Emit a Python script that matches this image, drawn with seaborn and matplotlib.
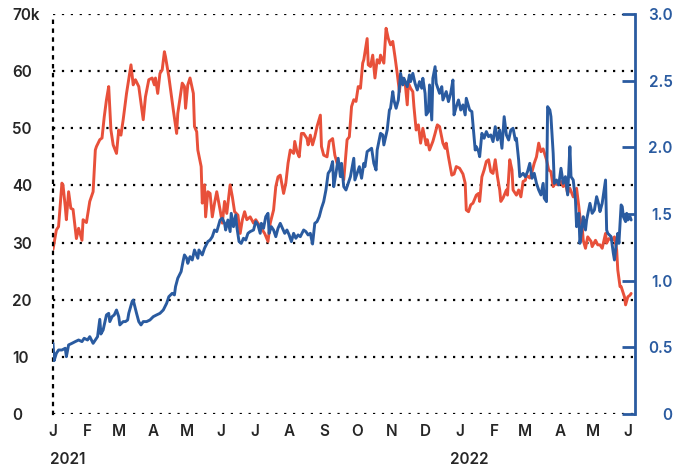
import matplotlib
matplotlib.use('Agg')
import matplotlib.pyplot as plt
import matplotlib.dates as mdates
import matplotlib.ticker as mticker
import seaborn as sns
import pandas as pd

sns.set_style('white')
plt.rcParams['font.family'] = ['Inter', 'DejaVu Sans']

RED = '#e8503a'
BLUE = '#2a5ba0'
TEXT = '#262626'

start = pd.Timestamp('2021-01-01')

# red series: days since 2021-01-01, value in thousands (left axis)
red_days = [0, 3, 5, 8, 9, 11, 12, 14, 16, 18, 21, 23, 26, 27, 30, 33, 36, 38, 39, 42,
            44, 46, 48, 50, 52, 54, 57, 59, 61, 63, 66, 70, 72, 74, 77, 79, 81, 83, 86, 89,
            91, 92, 94, 96, 98, 100, 101, 104, 106, 108, 111, 112, 116, 118, 119, 121, 123, 126, 127, 129,
            130, 133, 134, 136, 137, 139, 141, 143, 145, 147, 150, 152, 154, 156, 159, 161, 163, 166, 168, 170,
            172, 174, 177, 180, 182, 185, 187, 190, 193, 195, 198, 200, 202, 204, 207, 209, 211, 213, 216, 217,
            219, 221, 223, 225, 228, 229, 231, 233, 235, 237, 240, 241, 243, 246, 248, 251, 253, 255, 258, 261,
            264, 266, 268, 270, 272, 274, 276, 278, 279, 282, 283, 285, 287, 289, 291, 293, 294, 297, 299, 301,
            303, 305, 307, 309, 311, 312, 314, 316, 318, 319, 321, 323, 324, 326, 328, 330, 332, 335, 336, 338,
            341, 343, 345, 347, 350, 352, 353, 355, 358, 360, 362, 365, 368, 370, 371, 373, 375, 377, 380, 382,
            383, 385, 387, 389, 391, 393, 395, 397, 399, 401, 402, 404, 407, 408, 410, 412, 413, 416, 418, 420,
            422, 424, 425, 428, 430, 432, 434, 436, 438, 440, 443, 445, 447, 449, 451, 453, 456, 458, 460, 462,
            464, 467, 469, 470, 472, 473, 475, 476, 478, 480, 483, 484, 487, 489, 491, 493, 496, 497, 499, 502,
            504, 506, 507, 509, 510, 513, 514, 516, 518, 519]
red_vals = [28.8, 32.2, 32.8, 40.4, 40.0, 36.3, 34.0, 38.9, 36.0, 35.8, 30.7, 32.5, 30.4, 34.0, 33.5, 37.2, 38.9, 46.2, 46.8, 48.0,
            48.3, 52.0, 55.0, 57.3, 49.7, 47.1, 45.6, 49.7, 48.8, 51.5, 56.1, 61.1, 57.6, 58.5, 57.3, 54.4, 51.5, 55.5, 58.5, 58.8,
            57.6, 58.8, 56.1, 59.6, 60.2, 63.4, 62.5, 59.0, 56.1, 53.2, 49.1, 52.6, 57.9, 57.3, 53.5, 57.6, 58.8, 56.1, 50.3, 49.4,
            46.2, 43.3, 36.9, 40.1, 34.5, 38.9, 38.6, 34.5, 36.9, 38.9, 35.7, 33.4, 37.2, 35.1, 40.1, 38.0, 35.4, 34.8, 31.6, 34.0,
            35.4, 34.0, 34.5, 33.4, 34.0, 33.1, 32.5, 31.6, 30.2, 33.4, 35.7, 39.8, 41.5, 41.8, 38.6, 40.4, 43.9, 46.2, 45.6, 47.7,
            45.9, 45.0, 49.1, 49.1, 48.2, 47.1, 48.8, 47.1, 48.5, 50.3, 52.3, 46.8, 45.3, 45.0, 47.7, 48.2, 45.3, 43.9, 43.3, 41.0,
            48.0, 48.5, 53.8, 55.0, 54.7, 57.3, 57.0, 61.4, 62.0, 65.7, 61.1, 60.8, 62.8, 58.8, 62.0, 61.4, 62.8, 61.4, 67.5, 65.7,
            64.6, 65.2, 62.5, 59.6, 56.4, 58.5, 58.8, 58.2, 54.1, 57.9, 57.0, 56.4, 53.8, 49.7, 50.6, 47.4, 50.0, 47.1, 48.0, 46.2,
            47.7, 49.1, 50.6, 50.3, 47.4, 46.5, 47.4, 45.0, 41.8, 42.0, 43.3, 43.0, 42.0, 40.4, 35.7, 35.4, 36.6, 36.9, 38.3, 38.6,
            37.2, 41.5, 42.7, 44.2, 44.5, 42.4, 42.1, 44.5, 41.5, 39.2, 37.2, 37.8, 39.2, 38.3, 44.5, 42.7, 39.2, 38.3, 39.2, 38.0,
            40.7, 40.9, 41.8, 41.3, 42.4, 43.9, 45.0, 47.4, 45.9, 46.4, 44.5, 42.7, 42.4, 39.8, 40.4, 40.1, 40.7, 39.8, 40.4, 38.6,
            39.5, 38.0, 38.6, 39.5, 36.3, 34.5, 32.8, 30.4, 29.0, 31.0, 30.2, 29.3, 30.4, 29.6, 29.6, 29.0, 31.6, 29.9, 30.7, 30.4,
            31.0, 28.7, 25.2, 22.3, 22.3, 20.5, 19.1, 20.5, 20.8, 21.1]

# blue series: days since 2021-01-01, value (right axis)
blue_days = [0, 1, 3, 5, 8, 11, 12, 14, 17, 20, 23, 26, 28, 31, 33, 36, 38, 40, 42, 43,
             45, 48, 50, 51, 53, 55, 57, 59, 60, 63, 65, 67, 68, 71, 72, 75, 77, 79, 81, 84,
             87, 90, 93, 96, 99, 102, 104, 107, 109, 110, 112, 115, 117, 118, 120, 121, 123, 125, 127, 130,
             131, 134, 136, 139, 141, 143, 145, 147, 150, 152, 154, 155, 157, 159, 160, 162, 164, 165, 167, 169,
             171, 173, 175, 177, 180, 182, 184, 186, 187, 189, 191, 193, 194, 196, 198, 200, 202, 204, 206, 208,
             210, 212, 214, 216, 218, 220, 222, 225, 227, 229, 231, 233, 235, 237, 239, 241, 243, 245, 247, 249,
             251, 252, 254, 256, 258, 259, 261, 263, 265, 267, 270, 271, 273, 275, 277, 279, 280, 282, 284, 286,
             288, 290, 291, 294, 296, 297, 300, 302, 303, 305, 306, 308, 310, 312, 314, 315, 318, 320, 321, 323,
             325, 327, 329, 331, 332, 334, 335, 337, 338, 340, 341, 343, 344, 347, 349, 350, 353, 355, 357, 359,
             360, 362, 364, 366, 368, 370, 371, 374, 376, 378, 379, 380, 382, 383, 385, 387, 389, 391, 393, 395,
             397, 399, 401, 403, 405, 407, 409, 411, 413, 415, 416, 418, 419, 422, 424, 426, 428, 430, 432, 434,
             436, 438, 440, 441, 443, 444, 446, 447, 449, 450, 452, 454, 456, 458, 460, 462, 464, 465, 467, 469,
             470, 472, 473, 475, 476, 478, 479, 482, 484, 486, 488, 490, 491, 493, 496, 497, 498, 501, 503, 504,
             505, 507, 508, 510, 511, 512, 514, 515, 516, 518, 519]
blue_vals = [0.53, 0.40, 0.455, 0.48, 0.48, 0.493, 0.43, 0.518, 0.53, 0.543, 0.555, 0.543, 0.568, 0.555, 0.58, 0.53, 0.555, 0.58, 0.71, 0.60,
             0.63, 0.743, 0.755, 0.693, 0.73, 0.743, 0.78, 0.73, 0.668, 0.693, 0.693, 0.705, 0.755, 0.843, 0.855, 0.755, 0.693, 0.668, 0.693, 0.693,
             0.705, 0.73, 0.743, 0.755, 0.78, 0.83, 0.88, 0.905, 0.893, 0.955, 1.018, 1.068, 1.155, 1.193, 1.168, 1.13, 1.18, 1.155, 1.23, 1.168,
             1.23, 1.193, 1.243, 1.293, 1.305, 1.33, 1.38, 1.368, 1.455, 1.468, 1.43, 1.38, 1.455, 1.368, 1.505, 1.405, 1.493, 1.405, 1.293, 1.28,
             1.318, 1.305, 1.355, 1.368, 1.38, 1.443, 1.418, 1.355, 1.43, 1.393, 1.48, 1.505, 1.355, 1.405, 1.38, 1.33, 1.393, 1.43, 1.393, 1.355,
             1.38, 1.343, 1.293, 1.355, 1.318, 1.343, 1.33, 1.38, 1.368, 1.343, 1.355, 1.275, 1.43, 1.443, 1.48, 1.543, 1.593, 1.68, 1.805, 1.83,
             1.893, 1.705, 1.805, 1.918, 1.78, 1.88, 1.705, 1.68, 1.73, 1.78, 1.918, 1.755, 1.805, 1.855, 1.768, 1.88, 1.855, 1.968, 1.98, 1.993,
             1.88, 1.83, 1.98, 2.105, 2.093, 2.018, 2.13, 2.28, 2.293, 2.418, 2.355, 2.293, 2.355, 2.555, 2.468, 2.518, 2.455, 2.543, 2.493, 2.555,
             2.48, 2.43, 2.493, 2.443, 2.518, 2.405, 2.243, 2.268, 2.468, 2.205, 2.518, 2.605, 2.48, 2.405, 2.455, 2.355, 2.418, 2.343, 2.405, 2.505,
             2.243, 2.305, 2.355, 2.28, 2.318, 2.243, 2.368, 2.28, 2.268, 2.08, 1.98, 2.005, 1.968, 1.93, 2.105, 2.068, 2.118, 2.08, 2.093, 2.043,
             2.155, 2.055, 2.13, 1.993, 2.23, 2.093, 2.055, 2.13, 2.143, 2.055, 2.068, 1.905, 1.78, 1.805, 1.78, 1.818, 1.88, 1.768, 1.805, 1.73,
             1.68, 1.643, 1.73, 1.618, 1.593, 2.305, 2.28, 2.23, 1.955, 1.73, 1.755, 1.718, 1.843, 1.73, 1.78, 1.643, 2.005, 1.78, 1.755, 1.605,
             1.405, 1.505, 1.28, 1.405, 1.48, 1.38, 1.455, 1.58, 1.505, 1.53, 1.63, 1.568, 1.518, 1.58, 1.755, 1.38, 1.355, 1.33, 1.205, 1.155,
             1.23, 1.355, 1.28, 1.568, 1.555, 1.48, 1.443, 1.505, 1.455, 1.48, 1.455]

left_ticks = [0, 10, 20, 30, 40, 50, 60, 70]
left_labels = ['0', '10', '20', '30', '40', '50', '60', '70k']
right_ticks = [0, 0.5, 1.0, 1.5, 2.0, 2.5, 3.0]
right_labels = ['0', '0.5', '1.0', '1.5', '2.0', '2.5', '3.0']
years = ['2021', '2022']

red = pd.DataFrame({'date': start + pd.to_timedelta(red_days, unit='D'), 'value': red_vals})
blue = pd.DataFrame({'date': start + pd.to_timedelta(blue_days, unit='D'), 'value': blue_vals})

fig = plt.figure(figsize=(6.88, 4.68), dpi=100)
ax = fig.add_axes([53 / 688, 54 / 468, (634.5 - 53) / 688, 400 / 468])

sns.lineplot(data=red, x='date', y='value', ax=ax, color=RED, linewidth=2.1)
ax.set_ylim(0, 70)
ax.set_xlim(start, start + pd.Timedelta(days=522))
ax.set_yticks(left_ticks, left_labels)
ax.grid(axis='y', color='black', linestyle=(0, (1, 3)), linewidth=1.6)
ax.grid(axis='x', visible=False)
for s in ['top', 'right', 'bottom']:
    ax.spines[s].set_visible(False)
ax.spines['left'].set_color('black')
ax.spines['left'].set_linewidth(1.6)
ax.spines['left'].set_linestyle((0, (1, 3)))
ax.tick_params(axis='y', length=0, pad=29.5, labelsize=11, labelcolor=TEXT)
plt.setp(ax.get_yticklabels(), ha='left', fontweight='semibold')

ax.xaxis.set_major_locator(mdates.MonthLocator())
ax.xaxis.set_major_formatter(mticker.FuncFormatter(
    lambda v, p: mdates.num2date(v).strftime('%b')[0]))
ax.tick_params(axis='x', length=0, pad=7.5, labelsize=11, labelcolor=TEXT)
plt.setp(ax.get_xticklabels(), fontweight='semibold')
ax.set_xlabel('')
ax.set_ylabel('')

offsets = [-2.2, -6.9]
for yr, off in zip(years, offsets):
    ax.annotate(yr, xy=(pd.Timestamp(yr + '-01-01'), 0), xycoords=('data', 'axes fraction'),
                xytext=(off, -27.5), textcoords='offset points', ha='left', va='top',
                fontsize=11, color=TEXT, fontweight='semibold')

ax2 = ax.twinx()
sns.lineplot(data=blue, x='date', y='value', ax=ax2, color=BLUE, linewidth=2.1)
ax2.set_ylim(0, 3)
ax2.set_yticks(right_ticks, right_labels)
ax2.set_ylabel('')
for s in ['top', 'left', 'bottom']:
    ax2.spines[s].set_visible(False)
ax2.spines['right'].set_color(BLUE)
ax2.spines['right'].set_linewidth(2.0)
ax2.tick_params(axis='y', direction='in', length=9.5, width=2.0, color=BLUE,
                labelcolor=BLUE, pad=27.4, labelsize=11)
plt.setp(ax2.get_yticklabels(), ha='right', fontweight='semibold')

fig.savefig('out.png', dpi=100)
